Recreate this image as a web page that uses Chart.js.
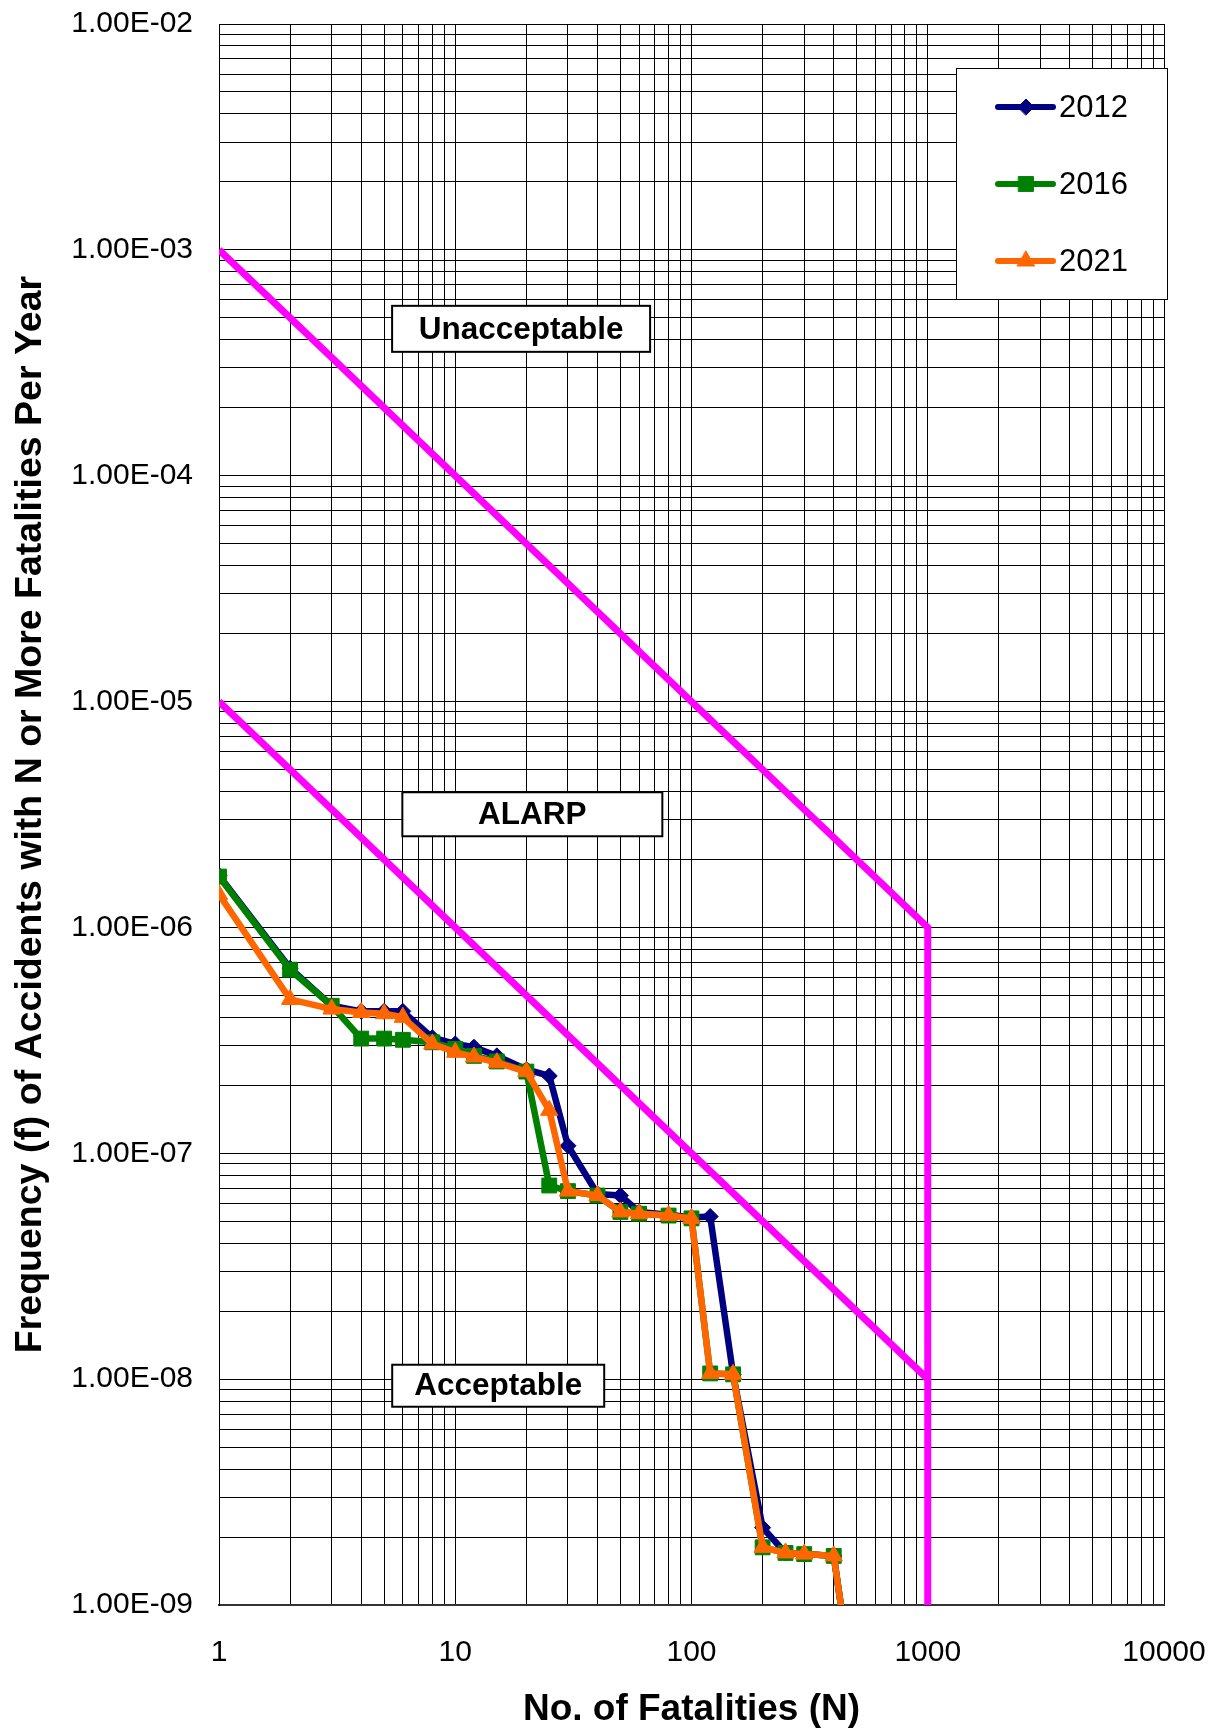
<!DOCTYPE html>
<html>
<head>
<meta charset="utf-8">
<title>F-N Curve</title>
<script src="https://cdn.jsdelivr.net/npm/chart.js@4.4.1/dist/chart.umd.min.js"></script>
<style>
	html, body { margin: 0; padding: 0; background: #fff; }
	#wrap { position: relative; width: 1223px; height: 1735px; }
</style>
</head>
<body>
<div id="wrap"><canvas id="fn_chart"></canvas></div>
<script>
// number of fatalities N (x) and frequency f of N or more fatalities per year (y)
const fatalities = [1, 2, 3, 4, 5, 6, 8, 10, 12, 15, 20, 25, 30, 40, 50, 60, 80, 100, 120, 150, 200, 250, 300, 400, 500];
const freq2012 = [1.70e-6, 6.6e-7, 4.5e-7, 4.25e-7, 4.25e-7, 4.25e-7, 3.25e-7, 3.05e-7, 2.95e-7, 2.7e-7, 2.35e-7, 2.2e-7, 1.08e-7, 6.6e-8, 6.5e-8, 5.5e-8, 5.35e-8, 5.2e-8, 5.25e-8, 1.05e-8, 2.2e-9, 1.7e-9, 1.68e-9, 1.65e-9, 3.3e-10];
const freq2016 = [1.68e-6, 6.5e-7, 4.5e-7, 3.22e-7, 3.22e-7, 3.18e-7, 3.1e-7, 2.9e-7, 2.7e-7, 2.55e-7, 2.3e-7, 7.2e-8, 6.8e-8, 6.5e-8, 5.5e-8, 5.4e-8, 5.3e-8, 5.15e-8, 1.06e-8, 1.05e-8, 1.8e-9, 1.7e-9, 1.68e-9, 1.65e-9, 3.3e-10];
const freq2021 = [1.40e-6, 4.8e-7, 4.35e-7, 4.2e-7, 4.15e-7, 4.0e-7, 3.05e-7, 2.8e-7, 2.67e-7, 2.52e-7, 2.3e-7, 1.55e-7, 6.8e-8, 6.5e-8, 5.5e-8, 5.4e-8, 5.3e-8, 5.15e-8, 1.06e-8, 1.05e-8, 1.8e-9, 1.7e-9, 1.68e-9, 1.65e-9, 3.3e-10];
const seriesLabels = ['2012', '2016', '2021'];

// risk criteria lines
const upperN = [1, 1000, 1000];
const upperF = [1e-3, 1e-6, 1e-9];
const lowerN = [1, 1000];
const lowerF = [1e-5, 1e-8];

// region labels (N, f at centre of the box)
const zoneLabels = ['Unacceptable', 'ALARP', 'Acceptable'];
const zoneN = [19, 21.2, 15.2];
const zoneF = [4.47e-4, 3.17e-6, 9.35e-9];

// axis decades
const xTickValues = [1, 10, 100, 1000, 10000];
const yTickValues = [1e-9, 1e-8, 1e-7, 1e-6, 1e-5, 1e-4, 1e-3, 1e-2];

const FONT = '"Liberation Sans", Arial, Helvetica, sans-serif';

function gridValues(decades){
	let out = [];
	for(let i=0;i<decades.length-1;i++){
		for(let m=1;m<10;m++){
			out.push(m*decades[i]);
		}
	}
	out.push(decades[decades.length-1]);
	return out;
}

function isDecade(v){
	let l = Math.log10(v);
	return Math.abs(l-Math.round(l)) < 1e-6;
}

function sciLabel(v){
	let parts = v.toExponential(2).split('e');
	let e = parseInt(parts[1]);
	return parts[0] + 'E' + (e<0 ? '-' : '+') + String(Math.abs(e)).padStart(2,'0');
}

function toPoints(xs, ys){
	return xs.map((n,i)=>({x: n, y: ys[i]}));
}

const zoneBoxes = {
	id: 'zoneBoxes',
	beforeDatasetsDraw(chart){
		const {ctx, scales} = chart;
		const sizes = [[258,46],[260,44],[212,42]];
		ctx.save();
		ctx.font = 'bold 31.5px ' + FONT;
		ctx.textAlign = 'center';
		ctx.textBaseline = 'middle';
		zoneLabels.forEach((text,i)=>{
			let cx = scales.x.getPixelForValue(zoneN[i]);
			let cy = scales.y.getPixelForValue(zoneF[i]);
			let w = sizes[i][0], h = sizes[i][1];
			ctx.fillStyle = '#fff';
			ctx.fillRect(cx-w/2, cy-h/2, w, h);
			ctx.lineWidth = 2;
			ctx.strokeStyle = '#000';
			ctx.strokeRect(cx-w/2, cy-h/2, w, h);
			ctx.fillStyle = '#000';
			ctx.fillText(text, cx, cy+1);
		});
		ctx.restore();
	}
};

const boxLegend = {
	id: 'boxLegend',
	afterDatasetsDraw(chart){
		const {ctx, chartArea} = chart;
		const w = 211, h = 231;
		const left = chartArea.right + 3 - w;
		const top = chartArea.top + 44;
		ctx.save();
		ctx.fillStyle = '#fff';
		ctx.fillRect(left, top, w, h);
		ctx.lineWidth = 1;
		ctx.strokeStyle = '#000';
		ctx.strokeRect(left+0.5, top+0.5, w, h);
		let items = chart.data.datasets.filter((d)=>!d.criterion);
		items.forEach((d,i)=>{
			let cy = top + 39 + i*77;
			ctx.beginPath();
			ctx.lineWidth = 6;
			ctx.lineCap = 'round';
			ctx.strokeStyle = d.borderColor;
			ctx.moveTo(left+42, cy);
			ctx.lineTo(left+97, cy);
			ctx.stroke();
			ctx.fillStyle = d.backgroundColor;
			ctx.strokeStyle = d.borderColor;
			ctx.lineWidth = 1;
			Chart.helpers.drawPoint(ctx, {pointStyle: d.pointStyle, radius: d.pointRadius, rotation: 0, borderWidth: 1}, left+70, cy);
			ctx.fillStyle = '#000';
			ctx.font = '31px ' + FONT;
			ctx.textAlign = 'left';
			ctx.textBaseline = 'middle';
			ctx.fillText(d.label, left+103, cy+1);
		});
		ctx.restore();
	}
};

const seriesStyle = [
	{color: '#000080', point: 'rectRot', radius: 8, order: 3},
	{color: '#008000', point: 'rect', radius: 10.5, order: 2},
	{color: '#FF6600', point: 'triangle', radius: 10, order: 1}
];
const seriesValues = [freq2012, freq2016, freq2021];

let datasets = seriesLabels.map((label,i)=>({
	label: label,
	data: toPoints(fatalities, seriesValues[i]),
	borderColor: seriesStyle[i].color,
	backgroundColor: seriesStyle[i].color,
	borderWidth: 6.5,
	borderJoinStyle: 'round',
	pointStyle: seriesStyle[i].point,
	pointRadius: seriesStyle[i].radius,
	pointBorderWidth: 1,
	order: seriesStyle[i].order
}));

datasets.push({
	label: 'upper', criterion: true,
	data: toPoints(upperN, upperF),
	borderColor: '#FF00FF', borderWidth: 7, pointRadius: 0, order: 5
});
datasets.push({
	label: 'lower', criterion: true,
	data: toPoints(lowerN, lowerF),
	borderColor: '#FF00FF', borderWidth: 7, pointRadius: 0, order: 5
});

const xGrid = gridValues(xTickValues);
const yGrid = gridValues(yTickValues);

new Chart(document.getElementById('fn_chart'), {
	type: 'line',
	data: {datasets: datasets},
	options: {
		responsive: true,
		maintainAspectRatio: false,
		animation: false,
		events: [],
		layout: {padding: {left: 0, top: 24, right: 59, bottom: 0}},
		plugins: {
			legend: {display: false},
			tooltip: {enabled: false}
		},
		scales: {
			x: {
				type: 'logarithmic',
				min: 1,
				max: 10000,
				afterBuildTicks: (s)=>{ s.ticks = xGrid.map((v)=>({value: v})); },
				afterFit: (s)=>{ s.height = 130; s.paddingLeft = 0; s.paddingRight = 0; },
				grid: {color: '#000', lineWidth: 1, drawTicks: false},
				border: {color: '#333', width: 2},
				ticks: {
					autoSkip: false, maxRotation: 0, minRotation: 0, padding: 30,
					color: '#000', font: {family: FONT, size: 30},
					callback: (v)=> isDecade(v) ? String(Math.round(v)) : ''
				},
				title: {
					display: true, text: 'No. of Fatalities (N)', color: '#000',
					font: {family: FONT, size: 37, weight: 'bold', lineHeight: 1},
					padding: {top: 0, bottom: 7}
				}
			},
			y: {
				type: 'logarithmic',
				min: 1e-9,
				max: 1e-2,
				afterBuildTicks: (s)=>{ s.ticks = yGrid.map((v)=>({value: v})); },
				afterFit: (s)=>{ s.width = 219; s.paddingTop = 0; s.paddingBottom = 0; },
				grid: {color: '#000', lineWidth: 1, drawTicks: false},
				border: {color: '#000', width: 1},
				ticks: {
					autoSkip: false, padding: 26,
					color: '#000', font: {family: FONT, size: 30},
					callback: (v)=> isDecade(v) ? sciLabel(v) : ''
				},
				title: {
					display: true, text: 'Frequency (f) of Accidents with N or More Fatalities Per Year', color: '#000',
					font: {family: FONT, size: 37.5, weight: 'bold', lineHeight: 1},
					padding: {top: 12, bottom: 0}
				}
			}
		}
	},
	plugins: [zoneBoxes, boxLegend]
});
</script>
</body>
</html>
